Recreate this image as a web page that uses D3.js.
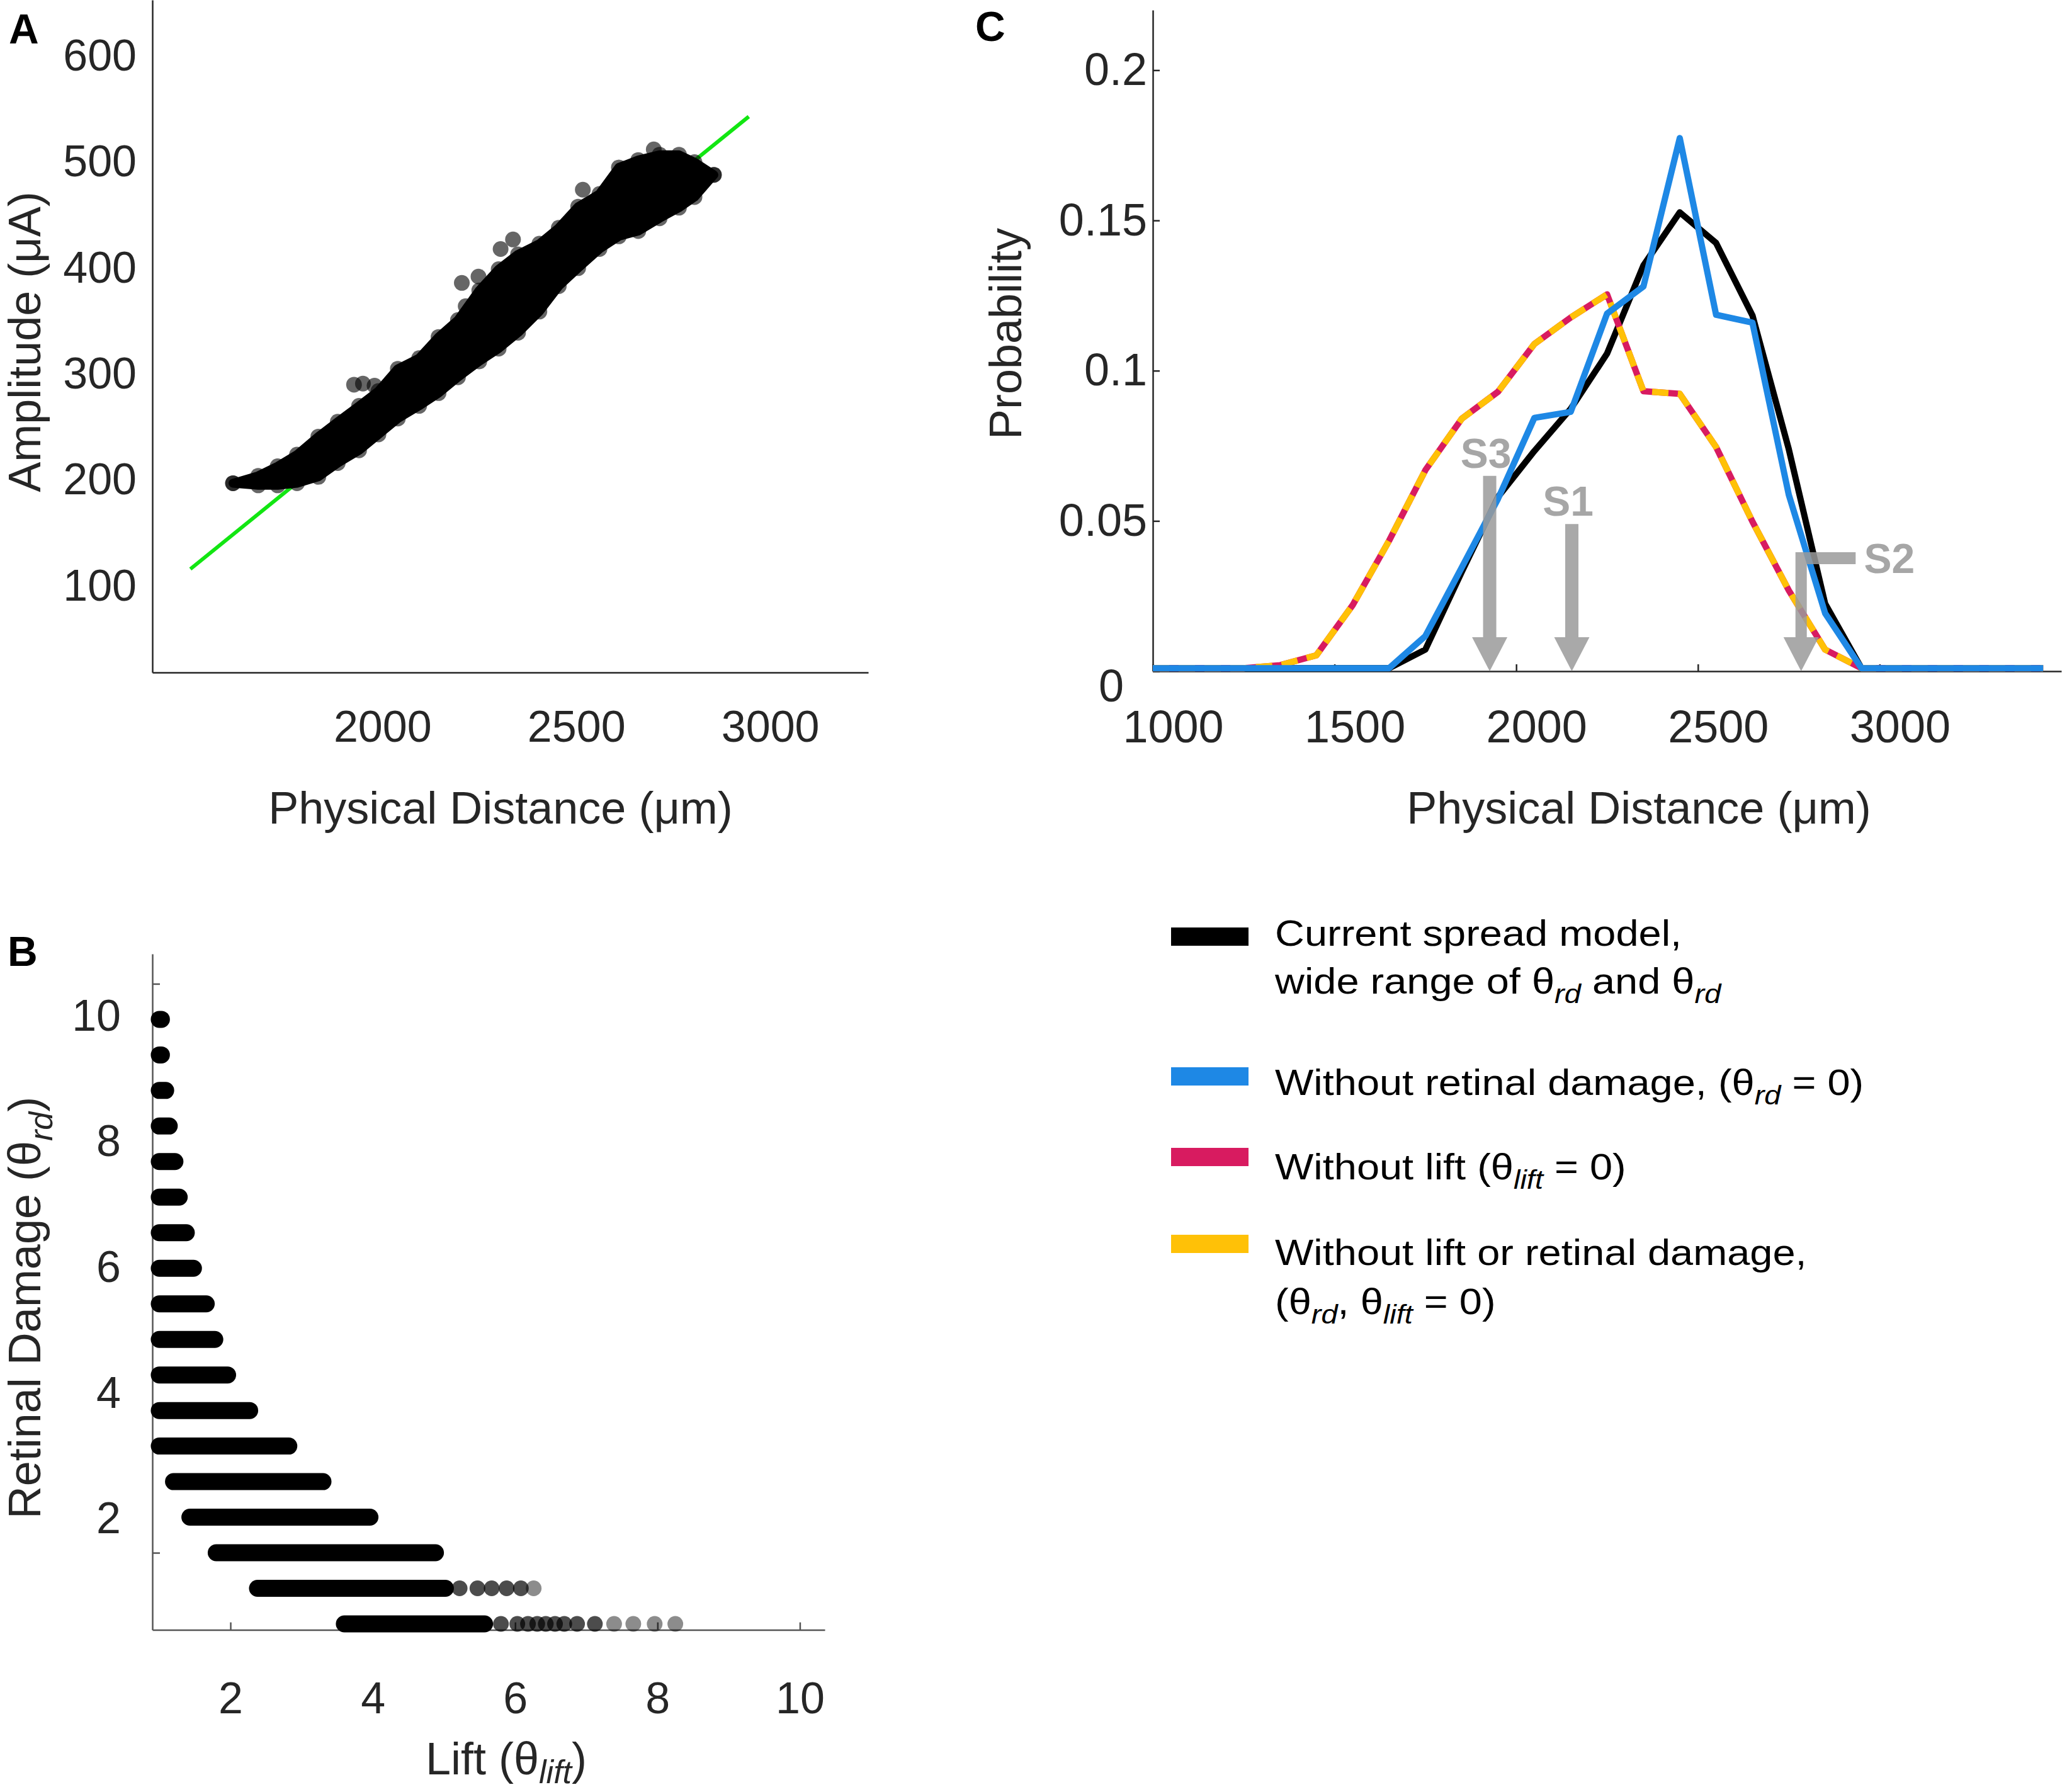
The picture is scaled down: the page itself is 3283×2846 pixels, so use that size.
<!DOCTYPE html>
<html>
<head>
<meta charset="utf-8">
<script src="https://cdn.jsdelivr.net/npm/d3@7"></script>
<style>
  body { margin: 0; background: #fff; }
  text { font-family: "Liberation Sans", Arial, sans-serif; }
</style>
</head>
<body>
<svg id="fig" width="3283" height="2846"></svg>
<script>
// ---- panel A: amplitude vs physical distance (edges of the dot cloud) ----
var bandDist    = [1615,1680,1730,1780,1835,1885,1940,1990,2040,2095,2145,2195,2250,2300,2350,2405,2455,2505,2560,2610,2660,2715,2765,2805,2855]
var bandAmpLow  = [197,195,195,197,203,216,228,243,258,270,282,297,312,324,339,359,383,400,418,430,435,447,457,467,488]
var bandAmpHigh = [197,204,213,224,241,255,270,284,305,315,335,351,379,399,413,423,438,458,470,495,502,507,507,500,488]
var strayDist = [1927,1950,1980,2205,2215,2248,2305,2337,2517,2700,2830]
var strayAmp  = [290,291,289,386,364,392,418,427,474,512,489]
var fitDist = [1505, 2945]
var fitAmp  = [116, 543]
var ampTicks = [100,200,300,400,500,600]
var distTicksA = [2000,2500,3000]

// ---- panel B: lift vs retinal damage ----
var rdLevels  = [9.5,9,8.5,8,7.5,7,6.5,6,5.5,5,4.5,4,3.5,3,2.5,2,1.5,1]
var liftStart = [1,1,1,1,1,1,1,1,1,1,1,1,1,1.2,1.43,1.8,2.38,3.6]
var liftEnd   = [1.03,1.03,1.09,1.14,1.22,1.28,1.38,1.48,1.66,1.78,1.96,2.27,2.82,3.3,3.96,4.88,5.02,5.57]
var tailRd    = [1.5,1.5,1.5,1.5,1.5,1,1,1,1,1,1,1,1,1]
var tailLift  = [5.22,5.47,5.67,5.88,6.08,5.8,6.03,6.18,6.31,6.43,6.56,6.69,6.87,7.12]
var faintRd   = [1.5,1,1,1,1]
var faintLift = [6.26,7.39,7.66,7.96,8.25]
var liftTicks = [2,4,6,8,10]
var rdTicks   = [2,4,6,8,10]

// ---- panel C: probability vs physical distance ----
var distC      = [1000,1050,1150,1250,1350,1450,1550,1650,1750,1850,1950,2050,2150,2250,2350,2450,2550,2650,2750,2850,2950,3050,3150,3250,3350,3450]
var probFull   = [0.001,0.001,0.001,0.001,0.001,0.001,0.001,0.001,0.0072,0.033,0.058,0.0733,0.0873,0.1057,0.135,0.1527,0.1425,0.1184,0.0739,0.0225,0.001,0.001,0.001,0.001,0.001,0.001]
var probNoRd   = [0.001,0.001,0.001,0.001,0.001,0.001,0.001,0.001,0.0117,0.0345,0.0574,0.0843,0.0863,0.119,0.128,0.1774,0.1186,0.116,0.0587,0.0193,0.001,0.001,0.001,0.001,0.001,0.001]
var probNoLift = [0.001,0.001,0.001,0.001,0.002,0.0053,0.022,0.0434,0.0669,0.084,0.093,0.1089,0.1177,0.1254,0.0932,0.0923,0.0746,0.0498,0.0269,0.0072,0.001,0.001,0.001,0.001,0.001,0.001]
var probNoBoth = [0.001,0.001,0.001,0.001,0.002,0.0053,0.022,0.0434,0.0669,0.084,0.093,0.1089,0.1177,0.1254,0.0932,0.0923,0.0746,0.0498,0.0269,0.0072,0.001,0.001,0.001,0.001,0.001,0.001]
var distTicksC = [1000,1500,2000,2500,3000]
var probTicks  = [0,0.05,0.1,0.15,0.2]
var arrowNames = ["S3","S1","S2"]
var arrowDist  = [1927,2153,2784]
var arrowTop   = [0.065,0.049,0.0396]

var seriesColors = ["#000000","#1E88E5","#D81B60","#FFC107"]

var svg = d3.select("#fig")
var ink = "#262626"
var plain = d3.format("d")

function styleAxis(g, size, color){
  g.attr("font-size", size).attr("font-family", '"Liberation Sans", Arial, sans-serif').style("color", color || ink)
  g.select(".domain").attr("stroke-width", 2.5)
  g.selectAll(".tick line").attr("stroke-width", 2.5)
}

// writes text made of plain and italic-subscript pieces
function richText(t, parts, size, shiftK){
  var sub = Math.round(size*0.72), shift = Math.round(size*(shiftK || 0.26))
  var down = false
  parts.forEach(function(p){
    var span = t.append("tspan").text(p[0])
    if (p[1]) {
      span.attr("font-size", sub).attr("font-style","italic").attr("dy", shift)
      down = true
    } else if (down) {
      span.attr("dy", -shift)
      down = false
    }
  })
  return t
}

/* ================= A ================= */
var xA = d3.scaleLinear().domain([1407, 3253]).range([242, 1379])
var yA = d3.scaleLinear().domain([18.4, 653]).range([1068, 0])
var gA = svg.append("g")

gA.append("g").attr("transform","translate(0,1068)")
  .call(d3.axisBottom(xA).tickValues(distTicksA).tickFormat(plain).tickSize(0).tickPadding(60).tickSizeOuter(0))
  .call(styleAxis, 70)
gA.append("g").attr("transform","translate(242,0)")
  .call(d3.axisLeft(yA).tickValues(ampTicks).tickFormat(plain).tickSize(0).tickPadding(25).tickSizeOuter(0))
  .call(styleAxis, 70)

gA.append("line")
  .attr("x1", xA(fitDist[0])).attr("y1", yA(fitAmp[0]))
  .attr("x2", xA(fitDist[1])).attr("y2", yA(fitAmp[1]))
  .attr("stroke","#12e612").attr("stroke-width",6)

var band = d3.area()
  .x(function(d,i){ return xA(bandDist[i]) })
  .y0(function(d,i){ return yA(bandAmpLow[i]) })
  .y1(function(d,i){ return yA(bandAmpHigh[i]) })
gA.append("path").datum(bandDist).attr("d", band).attr("fill","#000")
  .attr("stroke","#000").attr("stroke-width",14).attr("stroke-linejoin","round")

var edgePts = bandDist.map(function(d,i){ return [d, bandAmpLow[i]] })
  .concat(bandDist.map(function(d,i){ return [d, bandAmpHigh[i]] }))
  .concat(strayDist.map(function(d,i){ return [d, strayAmp[i]] }))
gA.selectAll("circle.dot").data(edgePts).enter().append("circle")
  .attr("cx", function(d){ return xA(d[0]) })
  .attr("cy", function(d){ return yA(d[1]) })
  .attr("r", 12.5).attr("fill","#000").attr("fill-opacity",0.6)

gA.append("text").attr("x",795).attr("y",1308).attr("text-anchor","middle")
  .attr("font-size",72).attr("fill",ink).text("Physical Distance (\u03bcm)")
gA.append("text").attr("transform","translate(64,543) rotate(-90)").attr("text-anchor","middle")
  .attr("font-size",72).attr("fill",ink).text("Amplitude (\u03bcA)")
gA.append("text").attr("x",14).attr("y",69).attr("font-size",66).attr("font-weight","bold").text("A")

/* ================= B ================= */
var xB = d3.scaleLinear().domain([0.903, 10.35]).range([242, 1310])
var yB = d3.scaleLinear().domain([0.915, 10.42]).range([2588.6, 1515])
// the printed y labels sit a little off their ticks in the source figure
var yBLabel = d3.scaleLinear().domain([0.233, 10.99]).range([2588.6, 1515])
var gB = svg.append("g")

gB.append("g").attr("transform","translate(0,2588.6)")
  .call(d3.axisBottom(xB).tickValues(liftTicks).tickSize(-12).tickPadding(83).tickSizeOuter(0))
  .call(styleAxis, 70, "#555")
gB.selectAll(".tick text").attr("fill", ink)
gB.append("g").attr("transform","translate(242,0)")
  .call(d3.axisLeft(yB).tickValues(rdTicks).tickSize(-12).tickFormat("").tickSizeOuter(0))
  .call(styleAxis, 70, "#555")
gB.append("g").attr("transform","translate(242,0)")
  .call(d3.axisLeft(yBLabel).tickValues(rdTicks).tickSize(0).tickPadding(50).tickSizeOuter(0))
  .call(styleAxis, 70)
  .select(".domain").remove()

gB.selectAll("line.row").data(rdLevels).enter().append("line")
  .attr("x1", function(d,i){ return xB(liftStart[i]) })
  .attr("x2", function(d,i){ return xB(liftEnd[i]) })
  .attr("y1", function(d){ return yB(d) })
  .attr("y2", function(d){ return yB(d) })
  .attr("stroke","#000").attr("stroke-width",27).attr("stroke-linecap","round")
gB.selectAll("circle.tail").data(tailLift).enter().append("circle")
  .attr("cx", function(d){ return xB(d) })
  .attr("cy", function(d,i){ return yB(tailRd[i]) })
  .attr("r",12.5).attr("fill","#000").attr("fill-opacity",0.7)
gB.selectAll("circle.faint").data(faintLift).enter().append("circle")
  .attr("cx", function(d){ return xB(d) })
  .attr("cy", function(d,i){ return yB(faintRd[i]) })
  .attr("r",12.5).attr("fill","#000").attr("fill-opacity",0.45)

richText(gB.append("text").attr("x",804).attr("y",2818).attr("text-anchor","middle")
  .attr("font-size",72).attr("fill",ink), [["Lift (\u03b8"],["lift",1],[")"]], 72, 0.2)
richText(gB.append("text").attr("transform","translate(64,2077) rotate(-90)").attr("text-anchor","middle")
  .attr("font-size",72).attr("fill",ink), [["Retinal Damage (\u03b8"],["rd",1],[")"]], 72)
gB.append("text").attr("x",12).attr("y",1534).attr("font-size",66).attr("font-weight","bold").text("B")

/* ================= C ================= */
var xC = d3.scaleLinear().domain([1000, 3500]).range([1831, 3274])
var yC = d3.scaleLinear().domain([0, 0.22]).range([1066, 16])
var gC = svg.append("g")

var axC = gC.append("g").attr("transform","translate(0,1066)")
  .call(d3.axisBottom(xC).tickValues(distTicksC).tickFormat(plain).tickSize(-11).tickPadding(62).tickSizeOuter(0))
  .call(styleAxis, 72)
axC.selectAll(".tick text").attr("dx", 32)
var ayC = gC.append("g").attr("transform","translate(1831,0)")
  .call(d3.axisLeft(yC).tickValues(probTicks).tickFormat(function(d){ return d === 0 ? "0" : String(d) })
    .tickSize(-11).tickPadding(9).tickSizeOuter(0))
  .call(styleAxis, 72)
ayC.selectAll(".tick text").filter(function(d){ return d === 0 }).attr("dx", -37).attr("y", 24)

var lineC = function(vals){
  return d3.line().x(function(d,i){ return xC(distC[i]) }).y(function(d){ return yC(d) })(vals)
}
gC.append("path").attr("d", lineC(probFull)).attr("fill","none")
  .attr("stroke", seriesColors[0]).attr("stroke-width",10).attr("stroke-linejoin","round")
gC.append("path").attr("d", lineC(probNoLift)).attr("fill","none")
  .attr("stroke", seriesColors[2]).attr("stroke-width",10).attr("stroke-linejoin","round")
gC.append("path").attr("d", lineC(probNoBoth)).attr("fill","none")
  .attr("stroke", seriesColors[3]).attr("stroke-width",10).attr("stroke-dasharray","26,15")
gC.append("path").attr("d", lineC(probNoRd)).attr("fill","none")
  .attr("stroke", seriesColors[1]).attr("stroke-width",10).attr("stroke-linejoin","round")

// grey site arrows
arrowNames.forEach(function(name, i){
  var x = xC(arrowDist[i]), top = yC(arrowTop[i]), tip = yC(0)
  var w = name === "S2" ? 9 : 10.5, hw = 28, hh = 54
  var p = "M" + (x-w) + "," + top + "H" + (x+w) + "V" + (tip-hh) + "H" + (x+hw) +
          "L" + x + "," + tip + "L" + (x-hw) + "," + (tip-hh) + "H" + (x-w) + "Z"
  if (name === "S2") p += "M" + (x-w) + "," + top + "H" + xC(2934) + "V" + (top+19) + "H" + (x-w) + "Z"
  gC.append("path").attr("d", p).attr("fill","#9a9a9a").attr("fill-opacity",0.85)
  var lab = gC.append("text").attr("font-size",66).attr("font-weight","bold").attr("fill","#a6a6a6").text(name)
  if (name === "S2") {
    lab.attr("x", xC(2957)).attr("y", top + 33)
  } else {
    lab.attr("x", x - 6).attr("y", top - 13).attr("text-anchor","middle")
  }
})

gC.append("text").attr("x",2603).attr("y",1308).attr("text-anchor","middle")
  .attr("font-size",72).attr("fill",ink).text("Physical Distance (\u03bcm)")
gC.append("text").attr("transform","translate(1622,530) rotate(-90)").attr("text-anchor","middle")
  .attr("font-size",72).attr("fill",ink).text("Probability")
gC.append("text").attr("x",1549).attr("y",65).attr("font-size",66).attr("font-weight","bold").text("C")

/* ================= legend ================= */
var legendLines = [
  [[["Current spread model,"]], [["wide range of \u03b8"],["rd",1],[" and \u03b8"],["rd",1]]],
  [[["Without retinal damage, (\u03b8"],["rd",1],[" = 0)"]]],
  [[["Without lift (\u03b8"],["lift",1],[" = 0)"]]],
  [[["Without lift or retinal damage,"]], [["(\u03b8"],["rd",1],[", \u03b8"],["lift",1],[" = 0)"]]]
]
var swatchTop = [1473, 1695, 1823, 1961]
var lineBase  = [[1502, 1578], [1739], [1873], [2009, 2087]]
var gL = svg.append("g")
legendLines.forEach(function(item, i){
  gL.append("rect").attr("x",1860).attr("y",swatchTop[i]).attr("width",123).attr("height",29)
    .attr("fill", seriesColors[i])
  item.forEach(function(parts, j){
    var t = gL.append("text")
      .attr("transform","translate(2025," + lineBase[i][j] + ") scale(1.12,1)")
      .attr("font-size",58).attr("fill","#000")
    richText(t, parts, 58)
  })
})
</script>
</body>
</html>
